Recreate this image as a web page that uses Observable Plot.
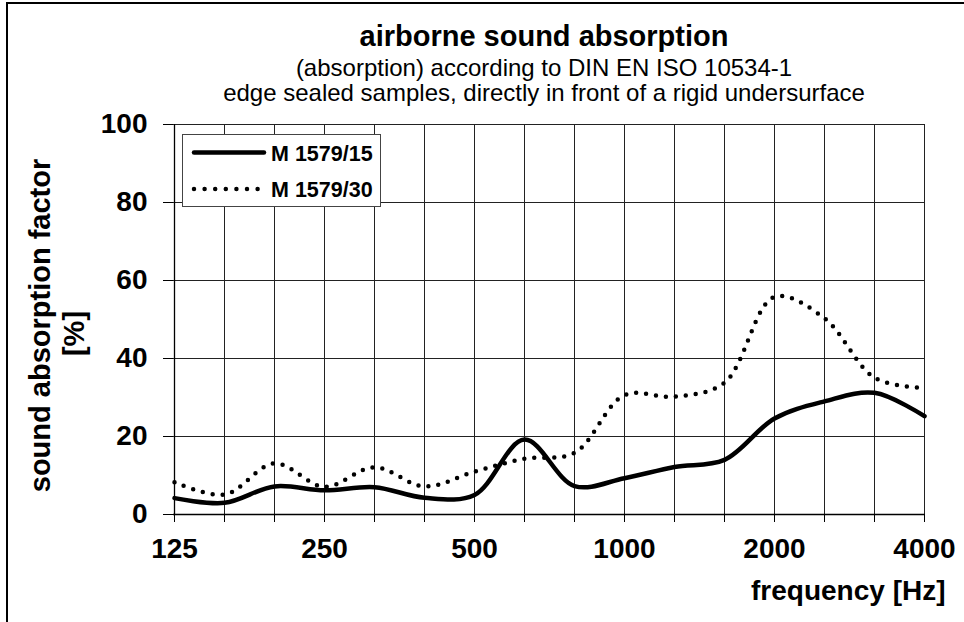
<!DOCTYPE html>
<html><head><meta charset="utf-8">
<script src="https://cdn.jsdelivr.net/npm/d3@7"></script>
<script src="https://cdn.jsdelivr.net/npm/@observablehq/plot@0.6"></script>
<style>
body{margin:0;background:#fff;font-family:"Liberation Sans",Arial,sans-serif}
#wrap{position:relative;width:964px;height:622px;overflow:hidden;background:#fff}
#chart{position:absolute;left:0;top:0}
#frame{position:absolute;left:6px;top:2px;width:1000px;height:700px;border-left:2px solid #000;border-top:2px solid #000}
.t{position:absolute;left:0;width:1088px;text-align:center;white-space:nowrap;line-height:1;color:#000}
#legend{position:absolute;left:182px;top:134px;width:197px;height:71px;border:1px solid #444;background:#fff}
</style></head><body>
<div id="wrap">
  <div id="chart"></div>
  <div id="frame"></div>
  <div class="t" id="title" style="top:22px;font-size:29px;font-weight:bold"></div>
  <div class="t" id="sub1" style="top:56px;font-size:24px"></div>
  <div class="t" id="sub2" style="top:81px;font-size:24px"></div>
  <div id="legend"></div>
</div>
<script>
const titleText = "airborne sound absorption";
const subtitle1 = "(absorption) according to DIN EN ISO 10534-1";
const subtitle2 = "edge sealed samples, directly in front of a rigid undersurface";
const xLabel = "frequency [Hz]";
const yLabel1 = "sound absorption factor";
const yLabel2 = "[%]";

const bands = ["125","160","200","250","315","400","500","630","800","1000","1250","1600","2000","2500","3150","4000"];
const labeledBands = ["125","250","500","1000","2000","4000"];
const yTicks = [0,20,40,60,80,100];

const seriesNames = ["M 1579/15", "M 1579/30"];
const m15 = [4.2, 3.0, 7.2, 6.2, 7.0, 4.3, 5.0, 19.2, 7.3, 9.3, 12.2, 14.0, 24.6, 29.0, 31.2, 25.2];
const m30 = [8.3, 5.1, 13.1, 7.1, 12.1, 7.2, 11.0, 14.3, 15.8, 30.6, 30.2, 33.8, 55.8, 50.3, 35.1, 32.4];

document.getElementById("title").textContent = titleText;
document.getElementById("sub1").textContent = subtitle1;
document.getElementById("sub2").textContent = subtitle2;

const rows15 = bands.map((b,i)=>({f:b, v:m15[i]}));
const rows30 = bands.map((b,i)=>({f:b, v:m30[i]}));

const chart = Plot.plot({
  width: 964, height: 622,
  marginLeft: 173, marginRight: 39, marginTop: 124, marginBottom: 108,
  style: {fontFamily: "'Liberation Sans', Arial, sans-serif", fontSize: "28px", fontWeight: "bold", color: "#000", background: "transparent", overflow: "visible"},
  x: {type: "point", domain: bands, padding: 0},
  y: {domain: [0,100]},
  marks: [
    Plot.gridX(bands, {stroke: "#222", strokeOpacity: 1, strokeWidth: 1}),
    Plot.gridY(yTicks, {stroke: "#222", strokeOpacity: 1, strokeWidth: 1}),
    Plot.axisY({ticks: yTicks, tickSize: 10, tickPadding: 16, label: null, stroke: "#000"}),
    Plot.axisX({ticks: bands, tickSize: 8, tickPadding: 16, label: null, stroke: "#000",
      tickFormat: d => labeledBands.includes(d) ? d : ""}),
    Plot.ruleX([bands[0]], {stroke: "#000", strokeWidth: 1.3}),
    Plot.ruleY([0], {stroke: "#000", strokeWidth: 1.3}),
    Plot.line(rows30, {x: "f", y: "v", curve: "catmull-rom", stroke: "#000", strokeWidth: 4.5,
      strokeDasharray: "0 10", strokeLinecap: "round"}),
    Plot.line(rows15, {x: "f", y: "v", curve: "catmull-rom", stroke: "#000", strokeWidth: 4.5}),
    Plot.text([xLabel], {frameAnchor: "bottom-right", text: d => d, textAnchor: "end", lineAnchor: "middle",
      dx: 20, dy: 77, fontSize: 28, fontWeight: "bold", fill: "#000"}),
    Plot.text([yLabel1], {frameAnchor: "left", text: d => d, rotate: -90, textAnchor: "middle", lineAnchor: "middle",
      dx: -133, dy: 6, fontSize: 29, fontWeight: "bold", fill: "#000"}),
    Plot.text([yLabel2], {frameAnchor: "left", text: d => d, rotate: -90, textAnchor: "middle", lineAnchor: "middle",
      dx: -99, dy: 14, fontSize: 29, fontWeight: "bold", fill: "#000"})
  ]
});
document.getElementById("chart").appendChild(chart);

// legend
const lg = d3.select("#legend").append("svg").attr("width", 197).attr("height", 71)
  .style("font-family", "'Liberation Sans', Arial, sans-serif").style("font-weight", "bold");
const styles = [{dash: null}, {dash: "0 10.6"}];
seriesNames.forEach((name, i) => {
  const yy = i === 0 ? 17.5 : 54;
  lg.append("line").attr("x1", 11).attr("x2", 81).attr("y1", yy).attr("y2", yy)
    .attr("stroke", "#000").attr("stroke-width", 4.5).attr("stroke-linecap", "round")
    .attr("stroke-dasharray", styles[i].dash);
  lg.append("text").attr("x", 88).attr("y", yy + 8).attr("font-size", 21.5).attr("fill", "#000").text(name);
});
</script>
</body></html>
